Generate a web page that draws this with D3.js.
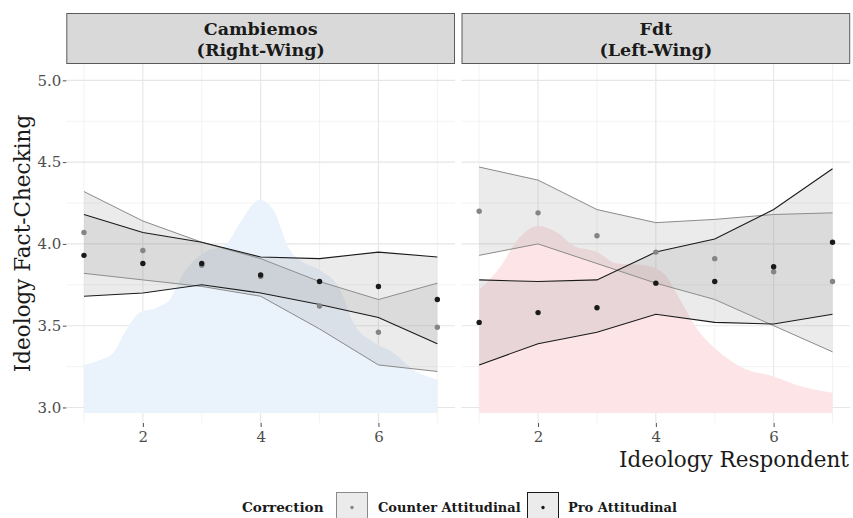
<!DOCTYPE html>
<html>
<head>
<meta charset="utf-8">
<script src="https://cdnjs.cloudflare.com/ajax/libs/d3/7.8.5/d3.min.js"></script>
<style>
  body { margin: 0; background: #fff; }
  svg { display: block; font-family: "Palatino Linotype", "Book Antiqua", Palatino, "DejaVu Serif", serif; }
</style>
</head>
<body>
<svg id="chart"></svg>
<script>
var ideology = [1, 2, 3, 4, 5, 6, 7];
var panelTitles = [["Cambiemos", "(Right-Wing)"], ["Fdt", "(Left-Wing)"]];
var groups = ["Counter Attitudinal", "Pro Attitudinal"];
var xTicks = [2, 4, 6];
var yTicks = [3.0, 3.5, 4.0, 4.5, 5.0];

// Cambiemos (right-wing) panel
var counterMeanR = [4.07, 3.96, 3.87, 3.80, 3.62, 3.46, 3.49];
var counterLowR  = [3.82, 3.78, 3.74, 3.68, 3.48, 3.26, 3.22];
var counterHighR = [4.32, 4.14, 4.01, 3.91, 3.77, 3.66, 3.76];
var proMeanR = [3.93, 3.88, 3.88, 3.81, 3.77, 3.74, 3.66];
var proLowR  = [3.68, 3.70, 3.75, 3.70, 3.63, 3.55, 3.39];
var proHighR = [4.18, 4.07, 4.01, 3.92, 3.91, 3.95, 3.92];
var densityXR = [1, 1.27, 1.5, 1.72, 1.95, 2.23, 2.46, 2.69, 3.03, 3.42, 3.65, 3.99, 4.21, 4.5, 4.67, 5.0, 5.35, 5.57, 5.91, 6.25, 6.59, 7];
var densityYR = [3.26, 3.29, 3.335, 3.476, 3.58, 3.61, 3.66, 3.82, 3.945, 4.0, 4.13, 4.27, 4.21, 3.96, 3.90, 3.84, 3.72, 3.52, 3.40, 3.335, 3.23, 3.17];

// Fdt (left-wing) panel
var counterMeanL = [4.20, 4.19, 4.05, 3.95, 3.91, 3.83, 3.77];
var counterLowL  = [3.93, 4.00, 3.88, 3.76, 3.66, 3.50, 3.34];
var counterHighL = [4.47, 4.39, 4.21, 4.13, 4.15, 4.18, 4.19];
var proMeanL = [3.52, 3.58, 3.61, 3.76, 3.77, 3.86, 4.01];
var proLowL  = [3.26, 3.39, 3.46, 3.57, 3.52, 3.51, 3.57];
var proHighL = [3.78, 3.77, 3.78, 3.95, 4.03, 4.21, 4.46];
var densityXL = [1, 1.36, 1.64, 2.01, 2.32, 2.6, 3.0, 3.34, 3.79, 4.13, 4.41, 4.7, 5.04, 5.49, 6.0, 6.46, 7];
var densityYL = [3.72, 3.86, 4.02, 4.11, 4.07, 3.99, 3.95, 3.88, 3.87, 3.82, 3.66, 3.48, 3.35, 3.24, 3.19, 3.13, 3.09];

var densityBase = 2.966;

var width = 853, height = 518;
var panelTop = 64, panelBottom = 423;
var panelLefts = [66.3, 461.5], panelW = 388.7;

var svg = d3.select("#chart").attr("width", width).attr("height", height);

var y = d3.scaleLinear().domain([2.905, 5.1]).range([panelBottom, panelTop]);

var panels = [
    {title: panelTitles[0], density: "#eaf2fc",
     counter: [counterMeanR, counterLowR, counterHighR], pro: [proMeanR, proLowR, proHighR],
     dx: densityXR, dy: densityYR},
    {title: panelTitles[1], density: "#fce4e7",
     counter: [counterMeanL, counterLowL, counterHighL], pro: [proMeanL, proLowL, proHighL],
     dx: densityXL, dy: densityYL}
];

var styles = [
    {line: "#8a8a8a", point: "#858585", lw: 1},
    {line: "#1a1a1a", point: "#1a1a1a", lw: 1.1}
];

panels.forEach(function(p, i) {
    var x = d3.scaleLinear().domain([0.7, 7.3]).range([panelLefts[i], panelLefts[i] + panelW]);
    var g = svg.append("g");

    // grid
    [1, 3, 5, 7].forEach(function(v) {
        g.append("line").attr("x1", x(v)).attr("x2", x(v)).attr("y1", panelTop).attr("y2", panelBottom)
            .attr("stroke", "#ebebeb").attr("stroke-width", 0.6);
    });
    [3.25, 3.75, 4.25, 4.75].forEach(function(v) {
        g.append("line").attr("x1", x.range()[0]).attr("x2", x.range()[1]).attr("y1", y(v)).attr("y2", y(v))
            .attr("stroke", "#ebebeb").attr("stroke-width", 0.6);
    });
    xTicks.forEach(function(v) {
        g.append("line").attr("x1", x(v)).attr("x2", x(v)).attr("y1", panelTop).attr("y2", panelBottom)
            .attr("stroke", "#e6e6e6").attr("stroke-width", 1.1);
    });
    yTicks.forEach(function(v) {
        g.append("line").attr("x1", x.range()[0]).attr("x2", x.range()[1]).attr("y1", y(v)).attr("y2", y(v))
            .attr("stroke", "#e6e6e6").attr("stroke-width", 1.1);
    });

    // density
    var dens = p.dx.map(function(d, k) { return [d, p.dy[k]]; });
    g.append("path")
        .datum(dens)
        .attr("fill", p.density)
        .attr("d", d3.area()
            .x(function(d) { return x(d[0]); })
            .y0(y(densityBase))
            .y1(function(d) { return y(d[1]); })
            .curve(d3.curveMonotoneX));

    // ribbons, lines, points
    [p.counter, p.pro].forEach(function(s, j) {
        var rows = ideology.map(function(v, k) { return {x: v, m: s[0][k], lo: s[1][k], hi: s[2][k]}; });
        g.append("path").datum(rows)
            .attr("fill", "#999999").attr("fill-opacity", 0.2)
            .attr("d", d3.area().x(function(d) { return x(d.x); })
                .y0(function(d) { return y(d.lo); }).y1(function(d) { return y(d.hi); }));
        ["lo", "hi"].forEach(function(key) {
            g.append("path").datum(rows)
                .attr("fill", "none").attr("stroke", styles[j].line).attr("stroke-width", styles[j].lw)
                .attr("d", d3.line().x(function(d) { return x(d.x); }).y(function(d) { return y(d[key]); }));
        });
    });
    [p.counter, p.pro].forEach(function(s, j) {
        g.selectAll(".pt" + j).data(ideology).enter().append("circle")
            .attr("class", "pt" + j)
            .attr("cx", function(d) { return x(d); })
            .attr("cy", function(d, k) { return y(s[0][k]); })
            .attr("r", 2.7)
            .attr("fill", styles[j].point);
    });

    // strip
    g.append("rect").attr("x", x.range()[0] + 0.5).attr("y", 13.5)
        .attr("width", panelW - 1).attr("height", 50)
        .attr("fill", "#d9d9d9").attr("stroke", "#5a5a5a").attr("stroke-width", 1);
    p.title.forEach(function(t, k) {
        g.append("text").attr("x", x.range()[0] + panelW / 2).attr("y", 35 + k * 20.5)
            .attr("text-anchor", "middle").attr("font-weight", "bold").attr("font-size", 17.5)
            .attr("fill", "#1a1a1a").text(t);
    });

    // x axis
    var xAxis = d3.axisBottom(x).tickValues(xTicks).tickFormat(d3.format("d")).tickSize(4).tickPadding(4);
    var ax = g.append("g").attr("transform", "translate(0," + panelBottom + ")").call(xAxis)
        .attr("font-family", null).attr("font-size", 15);
    ax.select(".domain").remove();
    ax.selectAll(".tick line").attr("stroke", "#4d4d4d");
    ax.selectAll(".tick text").attr("fill", "#4d4d4d");

    if (i === 0) {
        var yAxis = d3.axisLeft(y).tickValues(yTicks).tickFormat(d3.format(".1f")).tickSize(3.5).tickPadding(1.5);
        var ay = g.append("g").attr("transform", "translate(" + x.range()[0] + ",0)").call(yAxis)
            .attr("font-family", null).attr("font-size", 15);
        ay.select(".domain").remove();
        ay.selectAll(".tick line").attr("stroke", "#4d4d4d");
        ay.selectAll(".tick text").attr("fill", "#4d4d4d");
    }
});

// axis titles
svg.append("text").attr("x", 849).attr("y", 466.5).attr("text-anchor", "end")
    .attr("font-size", 21.5).attr("fill", "#1a1a1a").text("Ideology Respondent");
svg.append("text").attr("transform", "translate(30," + ((panelTop + panelBottom) / 2) + ") rotate(-90)")
    .attr("text-anchor", "middle").attr("font-size", 21.5).attr("fill", "#1a1a1a").text("Ideology Fact-Checking");

// legend
var leg = svg.append("g").attr("font-weight", "bold").attr("font-size", 13).attr("fill", "#1a1a1a");
leg.append("text").attr("x", 242).attr("y", 511.5).attr("font-size", 13.6).text("Correction");
var keyX = [336, 527], labX = [378, 568];
groups.forEach(function(name, j) {
    leg.append("rect").attr("x", keyX[j] + 0.5).attr("y", 492.5).attr("width", 31).attr("height", 31)
        .attr("fill", "#ebebeb").attr("stroke", styles[j].line).attr("stroke-width", 1);
    leg.append("circle").attr("cx", keyX[j] + 16).attr("cy", 507.5).attr("r", 1.7).attr("fill", styles[j].point);
    leg.append("text").attr("x", labX[j]).attr("y", 511.5).text(name);
});
</script>
</body>
</html>
